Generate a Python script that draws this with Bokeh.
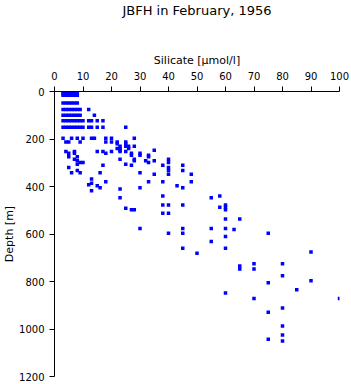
from bokeh.plotting import figure
from bokeh.models import Range1d, FixedTicker, ColumnDataSource, Title
from bokeh.embed import file_html
from bokeh.resources import INLINE

title_text = "JBFH in February, 1956"
x_label = "Silicate [µmol/l]"
y_label = "Depth [m]"
x_ticks = [0, 10, 20, 30, 40, 50, 60, 70, 80, 90, 100]
y_ticks = [0, 200, 400, 600, 800, 1000, 1200]

silicate = [
    3, 4, 5, 6, 7, 8,
    3, 4, 5, 6, 7, 8,
    3, 4, 5, 6, 7, 8,
    3, 4, 5, 6, 7, 8,
    3, 4, 5, 6, 7, 8, 9, 12,
    3, 4, 5, 6, 7, 8, 9, 14,
    3, 4, 5, 6, 7, 8, 9, 10, 12, 13, 15, 17,
    3, 4, 5, 6, 7, 8, 9, 10, 12, 13, 15, 17, 25,
    3, 6, 8, 10, 13, 14, 18, 20, 28,
    4, 5, 9, 18, 20, 22, 25,
    22, 25,
    23, 25, 26, 28,
    22, 23, 26,
    23, 35,
    4, 7, 15, 17, 20, 23, 25,
    5, 7, 18, 27, 30,
    27, 30, 33,
    5, 8, 33,
    7, 23, 28, 40,
    8, 28, 32, 35,
    9, 10, 33, 40,
    8, 25,
    17, 27, 38, 45,
    5, 40,
    8, 40, 45,
    6, 9, 16, 30,
    35, 40, 48,
    13,
    18, 33, 38, 48,
    13,
    12,
    15, 43,
    16, 30, 45,
    23,
    13,
    38, 58,
    23, 55,
    38, 40, 45, 60,
    58, 60,
    25,
    27, 28, 60,
    38, 40,
    60, 65,
    30, 45, 55, 60,
    63,
    40, 45, 75,
    60,
    55,
    45, 60,
    90,
    50,
    70, 80,
    65,
    65, 70,
    80,
    90,
    75,
    85,
    60,
    70, 100,
    80,
    75,
    80,
    80,
    75,
    80,
]

depth = [
    0, 0, 0, 0, 0, 0,
    8, 8, 8, 8, 8, 8,
    16, 16, 16, 16, 16, 16,
    48, 48, 48, 48, 48, 48,
    76, 76, 76, 76, 76, 76, 76, 76,
    100, 100, 100, 100, 100, 100, 100, 100,
    123, 123, 123, 123, 123, 123, 123, 123, 123, 123, 123, 123,
    150, 150, 150, 150, 150, 150, 150, 150, 150, 150, 150, 150, 150,
    197, 197, 197, 197, 197, 197, 197, 197, 197,
    213, 213, 213, 213, 213, 213, 213,
    220, 220,
    230, 230, 230, 230,
    240, 240, 240,
    247, 247,
    253, 253, 253, 253, 253, 253, 253,
    260, 260, 260, 260, 260,
    268, 268, 268,
    275, 275, 275,
    285, 285, 285, 285,
    292, 292, 292, 292,
    299, 299, 299, 299,
    306, 306,
    311, 311, 311, 311,
    320, 320,
    333, 333, 333,
    342, 342, 342, 342,
    348, 348, 348,
    368,
    380, 380, 380, 380,
    386,
    393,
    397, 397,
    405, 405, 405,
    410,
    418,
    440, 440,
    447, 447,
    478, 478, 478, 478,
    487, 487,
    492,
    498, 498, 498,
    513, 513,
    537, 537,
    577, 577, 577, 577,
    581,
    597, 597, 597,
    611,
    632,
    660, 660,
    676,
    681,
    725, 725,
    735,
    747, 747,
    776,
    797,
    805,
    835,
    848,
    872, 872,
    912,
    929,
    987,
    1025,
    1043,
    1050,
]

FONT = "DejaVu Sans"

p = figure(width=351, height=384, output_backend="svg", toolbar_location=None,
           x_range=Range1d(0, 100), y_range=Range1d(1200, 0),
           x_axis_location="above", title=title_text,
           min_border_left=54, min_border_right=12, min_border_top=91, min_border_bottom=8)

p.title.align = "center"
p.title.text_font = FONT
p.title.text_font_size = "13px"
p.title.text_font_style = "normal"
p.title.text_color = "#000000"
p.title.standoff = 0

# empty spacer between the title and the top axis
p.add_layout(Title(text=" ", text_font_size="10px", standoff=20), "above")

p.grid.visible = False
p.outline_line_color = None
p.background_fill_color = "white"
p.border_fill_color = "white"

for ax in (p.xaxis[0], p.yaxis[0]):
    ax.axis_line_color = "black"
    ax.major_tick_line_color = "black"
    ax.minor_tick_line_color = None
    ax.major_tick_out = 5
    ax.major_tick_in = 0
    ax.major_label_text_font = FONT
    ax.major_label_text_font_size = "10px"
    ax.major_label_text_color = "black"
    ax.axis_label_text_font = FONT
    ax.axis_label_text_font_size = "11px"
    ax.axis_label_text_font_style = "normal"
    ax.axis_label_text_color = "black"

p.xaxis.ticker = FixedTicker(ticks=x_ticks)
p.yaxis.ticker = FixedTicker(ticks=y_ticks)
p.xaxis.axis_label = x_label
p.yaxis.axis_label = y_label
p.xaxis.major_label_standoff = 7
p.xaxis.axis_label_standoff = 2
p.yaxis.major_label_standoff = 5
p.yaxis.axis_label_standoff = 0

src = ColumnDataSource(dict(x=silicate, y=depth))
p.scatter("x", "y", source=src, marker="square", size=3.5,
          fill_color="#0000ff", line_color=None)

open("out.html", "w").write(file_html(p, INLINE))
